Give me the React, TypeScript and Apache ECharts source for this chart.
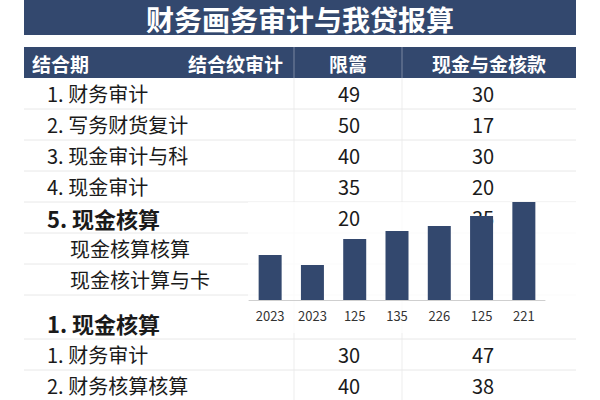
import { useEffect, useRef } from "react";
import * as echarts from "echarts";

const TITLE = "财务画务审计与我贷报算";
const HEADERS = ["结合期", "结合纹审计", "限篙", "现金与金核款"];

const ROW_LABELS = [
  "1. 财务审计",
  "2. 写务财货复计",
  "3. 现金审计与科",
  "4. 现金审计",
  "5. 现金核算",
  "现金核算核算",
  "现金核计算与卡",
  "1. 现金核算",
  "1. 财务审计",
  "2. 财务核算核算",
];
const LIMIT_VALUES = ["49", "50", "40", "35", "20", "", "", "", "30", "40"];
const CASH_VALUES = ["30", "17", "30", "20", "35", "", "", "", "47", "38"];
const BOLD_ROWS = [4, 7];
const INDENT_ROWS = [5, 6];

const BAR_CATEGORIES = ["2023", "2023", "125", "135", "226", "125", "221"];
const BAR_VALUES = [45, 35, 61, 69, 74, 84, 98];

const NAVY = "#33486e";
const FONT = "Noto Sans CJK SC";

export default function App() {
  const chartRef = useRef<HTMLDivElement>(null);

  useEffect(() => {
    if (!chartRef.current) return;
    const chart = echarts.init(chartRef.current, undefined, { renderer: "svg" });

    // table layout
    const left = 24;
    const right = 576;
    const col1 = 294;
    const col2 = 402;
    const headerTop = 47;
    const headerBottom = 78;
    const rowHeights = [31, 31, 31, 31, 31, 31, 31, 44, 31, 31];

    const elements: any[] = [];
    elements.push({
      type: "rect",
      z: 0,
      shape: { x: left, y: 0, width: right - left, height: 35 },
      style: { fill: NAVY },
    });
    elements.push({
      type: "text",
      z: 0,
      x: 300,
      y: 19,
      style: {
        text: TITLE,
        fill: "#fff",
        fontSize: 28,
        fontWeight: "bold",
        fontFamily: FONT,
        textAlign: "center",
        textVerticalAlign: "middle",
      },
    });
    elements.push({
      type: "rect",
      z: 0,
      shape: { x: left, y: headerTop, width: right - left, height: headerBottom - headerTop },
      style: { fill: NAVY },
    });
    [col1, col2].forEach((cx) =>
      elements.push({
        type: "line",
        z: 0,
        shape: { x1: cx, y1: headerTop, x2: cx, y2: headerBottom },
        style: { stroke: "rgba(255,255,255,0.35)", lineWidth: 1 },
      })
    );
    const headerX = [32, 283, (col1 + col2) / 2, (col2 + right) / 2];
    const headerAlign = ["left", "right", "center", "center"];
    HEADERS.forEach((h, i) =>
      elements.push({
        type: "text",
        z: 0,
        x: headerX[i],
        y: 63,
        style: {
          text: h,
          fill: "#fff",
          fontSize: 19,
          fontWeight: "bold",
          fontFamily: FONT,
          textAlign: headerAlign[i],
          textVerticalAlign: "middle",
        },
      })
    );

    // vertical dividers in the body
    [col1, col2].forEach((cx) =>
      elements.push({
        type: "line",
        z: 0,
        shape: { x1: cx, y1: headerBottom, x2: cx, y2: 400 },
        style: { stroke: "#ededed", lineWidth: 1 },
      })
    );

    let top = headerBottom;
    ROW_LABELS.forEach((label, i) => {
      const h = rowHeights[i];
      const bold = BOLD_ROWS.includes(i);
      const cy = i === 7 ? top + 28 : top + h / 2;
      elements.push({
        type: "line",
        z: 0,
        shape: { x1: left, y1: top + h, x2: right, y2: top + h },
        style: { stroke: "#e8e8e8", lineWidth: 1 },
      });
      elements.push({
        type: "text",
        z: 0,
        x: INDENT_ROWS.includes(i) ? 70 : 47,
        y: cy,
        style: {
          text: label,
          fill: "#1a1a1a",
          fontSize: bold ? 22 : 20,
          fontWeight: bold ? "bold" : "normal",
          fontFamily: FONT,
          textAlign: "left",
          textVerticalAlign: "middle",
        },
      });
      [LIMIT_VALUES[i], CASH_VALUES[i]].forEach((v, k) => {
        if (!v) return;
        elements.push({
          type: "text",
          z: 5,
          x: k === 0 ? 349 : 483,
          y: cy,
          style: {
            text: v,
            fill: "#1a1a1a",
            fontSize: 20,
            fontFamily: FONT,
            textAlign: "center",
            textVerticalAlign: "middle",
          },
        });
      });
      top += h;
    });

    // chart panel over the table
    elements.push({
      type: "rect",
      z: 1,
      shape: { x: 248, y: 202, width: right - 248, height: 131 },
      style: { fill: "rgba(255,255,255,0.8)" },
    });

    chart.setOption({
      animation: false,
      textStyle: { fontFamily: FONT },
      graphic: { elements },
      grid: { left: 249, top: 200, width: 296, height: 100 },
      xAxis: {
        type: "category",
        data: BAR_CATEGORIES,
        z: 10,
        axisLine: { lineStyle: { color: "#cfcfcf" } },
        axisTick: { show: false },
        axisLabel: { color: "#333", fontSize: 13, margin: 9 },
      },
      yAxis: { type: "value", min: 0, max: 100, show: false },
      series: [
        {
          type: "bar",
          z: 10,
          data: BAR_VALUES,
          barWidth: 23,
          itemStyle: { color: NAVY },
        },
      ],
    });

    return () => chart.dispose();
  }, []);

  return (
    <div
      ref={chartRef}
      style={{ position: "fixed", left: 0, top: 0, width: 600, height: 400, background: "#fff" }}
    />
  );
}
